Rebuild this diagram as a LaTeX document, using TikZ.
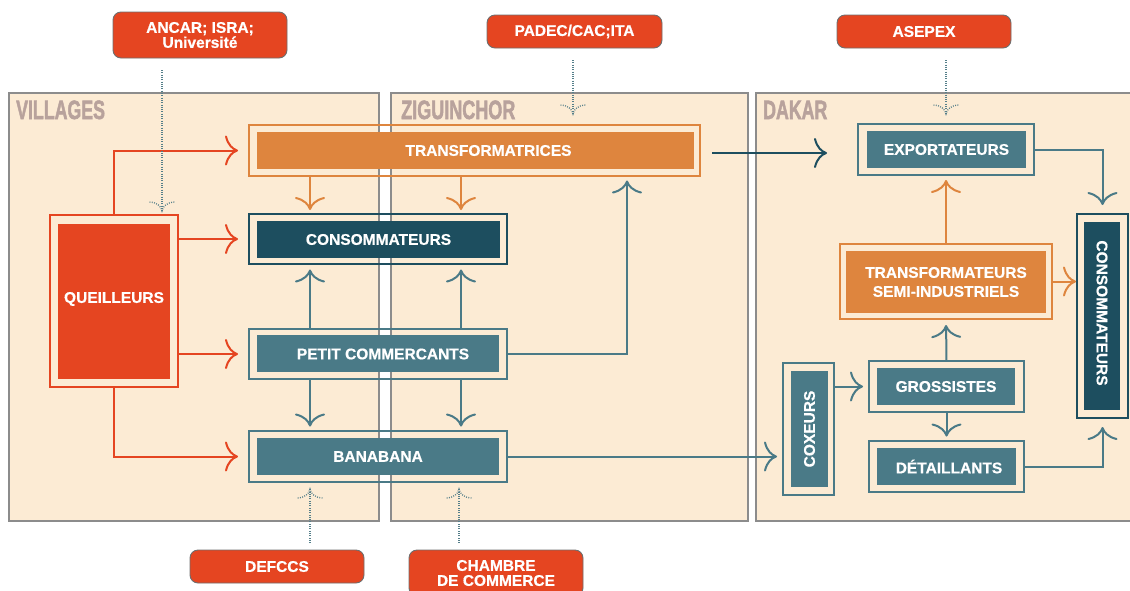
\documentclass[tikz,border=0pt]{standalone}
\usepackage{fontspec}
\setmainfont{Liberation Sans}[BoldFeatures={FakeBold=0.6}]
\newfontfamily\titlefont{Liberation Sans}[BoldFeatures={FakeBold=2.2}]
\usetikzlibrary{arrows.meta}
\definecolor{cred}{HTML}{E54521}
\definecolor{corange}{HTML}{DE853E}
\definecolor{cdark}{HTML}{1D4E5F}
\definecolor{cteal}{HTML}{4A7A87}
\definecolor{cpanel}{HTML}{FCEBD4}
\definecolor{cborder}{HTML}{8C8C8C}
\definecolor{ctitle}{HTML}{B8A29C}
\definecolor{ctagb}{HTML}{6E6E6E}
\definecolor{cdot}{HTML}{557F8A}
\begin{document}
\begin{tikzpicture}[x=1pt,y=-1pt,
  panel/.style={fill=cpanel, draw=cborder, line width=1.3pt},
  ptitle/.style={anchor=base west, inner sep=0, text=ctitle, font=\titlefont\fontsize{26.5}{26.5}\selectfont\bfseries},
  frame/.style={draw, line width=1.6pt, inner sep=0, outer sep=0},
  fillbox/.style={inner sep=0, outer sep=0, text=white, align=center, font=\fontsize{15.5}{15.5}\selectfont\bfseries},
  lbl/.style={inner sep=0, text=white, align=center, font=\fontsize{15.5}{15.5}\selectfont\bfseries},
  tag/.style={draw=ctagb, fill=cred, rounded corners=8pt, line width=0.9pt, inner sep=0, text=white, align=center, font=\fontsize{15.5}{15}\selectfont\bfseries},
  conn/.style={line width=2pt, -{Computer Modern Rightarrow[length=13pt,width=30pt]}},
  dotc/.style={draw=cdot, line width=1.3pt, dash pattern=on 0.9pt off 1.4pt},
  dtip/.pic={\draw[dotc] (-12.5,-9) .. controls (-5,-8.5) and (-1,-5) .. (0,0) .. controls (1,-5) and (5,-8.5) .. (12.5,-9);}
]
\clip (0,0) rectangle (1130,590);
% panels
\draw[panel] (9,93) rectangle (379,521);
\draw[panel] (391,93) rectangle (748,521);
\draw[panel] (756,93) rectangle (1145,521);
\node[ptitle] (tv) at (16,119) {\scalebox{0.67}[1]{VILLAGES}};
\node[ptitle] (tz) at (401,119) {\scalebox{0.68}[1]{ZIGUINCHOR}};
\node[ptitle] (td) at (763,119) {\scalebox{0.67}[1]{DAKAR}};

% frames
\node[frame, draw=corange, minimum width=451pt, minimum height=51pt] (tf) at (474.5,150.5) {};
\node[frame, draw=cdark, minimum width=258pt, minimum height=50pt] (cz) at (378,239) {};
\node[frame, draw=cteal, minimum width=258pt, minimum height=50pt] (pc) at (378,354) {};
\node[frame, draw=cteal, minimum width=258pt, minimum height=51pt] (bb) at (378,456.5) {};
\node[frame, draw=cred, minimum width=128pt, minimum height=172pt] (q) at (114,301) {};
\node[frame, draw=cteal, minimum width=176pt, minimum height=51pt] (ex) at (946,149.5) {};
\node[frame, draw=corange, minimum width=212pt, minimum height=75pt] (ts) at (946,281.5) {};
\node[frame, draw=cdark, minimum width=51pt, minimum height=204pt] (cd) at (1102.5,316) {};
\node[frame, draw=cteal, minimum width=51pt, minimum height=132pt] (cx) at (808.5,429) {};
\node[frame, draw=cteal, minimum width=155pt, minimum height=51pt] (gr) at (946.5,386.5) {};
\node[frame, draw=cteal, minimum width=155pt, minimum height=51pt] (dt) at (946.5,466.5) {};

% fills
\node[fillbox, fill=corange, minimum width=437pt, minimum height=37pt] (tfi) at (475.5,150.5) {};
\node[lbl] (tfl) at (488.5,150.5) {TRANSFORMATRICES};
\node[fillbox, fill=cdark, minimum width=243pt, minimum height=37pt] (czi) at (378.5,239.5) {CONSOMMATEURS};
\node[fillbox, fill=cteal, minimum width=242pt, minimum height=37pt] (pci) at (378,353.5) {};
\node[lbl] (pcl) at (383,354) {PETIT COMMERCANTS};
\node[fillbox, fill=cteal, minimum width=242pt, minimum height=37pt] (bbi) at (378,456.5) {BANABANA};
\node[fillbox, fill=cred, minimum width=112pt, minimum height=155pt] (qi) at (114,301.5) {};
\node[lbl] (ql) at (114,299) {QUEILLEURS};
\node[fillbox, fill=cteal, minimum width=159pt, minimum height=37pt] (exi) at (946.5,149.5) {EXPORTATEURS};
\node[fillbox, fill=corange, minimum width=200pt, minimum height=62pt, font=\fontsize{15.5}{19}\selectfont\bfseries] (tsi) at (946,282) {TRANSFORMATEURS\\SEMI-INDUSTRIELS};
\node[fillbox, fill=cdark, minimum width=36pt, minimum height=188pt] (cdi) at (1102,316) {};
\node[lbl, rotate=-90] (cdl) at (1102,313) {CONSOMMATEURS};
\node[fillbox, fill=cteal, minimum width=37pt, minimum height=116pt] (cxi) at (809.5,429) {};
\node[lbl, rotate=90] (cxl) at (809.5,429) {COXEURS};
\node[fillbox, fill=cteal, minimum width=138pt, minimum height=37pt] (gri) at (946,386.5) {GROSSISTES};
\node[fillbox, fill=cteal, minimum width=139pt, minimum height=37pt] (dti) at (946.5,466.5) {};
\node[lbl] (dtl) at (949,466.5) {DÉTAILLANTS};

% helper coordinates
\coordinate (xa) at (310,0);
\coordinate (xb) at (461,0);
\coordinate (xc) at (627,0);
\coordinate (yl) at (0,153);

% red connectors
\draw[conn, color=cred, shorten >=11pt] (q.north) |- (tf.west);
\draw[conn, color=cred, shorten >=11pt] (q.east |- cz.west) -- (cz.west);
\draw[conn, color=cred, shorten >=11pt] (q.east |- pc.west) -- (pc.west);
\draw[conn, color=cred, shorten >=11pt] (q.south) |- (bb.west);
% orange down
\draw[conn, color=corange, shorten >=4pt] (tf.south -| xa) -- (cz.north -| xa);
\draw[conn, color=corange, shorten >=4pt] (tf.south -| xb) -- (cz.north -| xb);
% teal up/down
\draw[conn, color=cteal, shorten >=5.5pt] (pc.north -| xa) -- (cz.south -| xa);
\draw[conn, color=cteal, shorten >=5.5pt] (pc.north -| xb) -- (cz.south -| xb);
\draw[conn, color=cteal, shorten >=4.5pt] (pc.south -| xa) -- (bb.north -| xa);
\draw[conn, color=cteal, shorten >=4.5pt] (pc.south -| xb) -- (bb.north -| xb);
\draw[conn, color=cteal, shorten >=4.5pt] (pc.east) -| (tf.south -| xc);
% to Dakar
\draw[conn, color=cdark, shorten <=12pt, shorten >=31pt] (tf.east |- yl) -- (ex.west |- yl);
\draw[conn, color=cteal, shorten >=9pt] (ex.east) -| (cd.north);
\draw[conn, color=corange, shorten >=5pt] (ts.north) -- (ex.south);
\draw[conn, color=corange, shorten >=1pt] (ts.east) -- (cd.west |- ts.east);
\draw[conn, color=cteal, shorten >=6pt] (gr.north) -- (ts.south);
\draw[conn, color=cteal, shorten >=4.5pt] (gr.south) -- (dt.north);
\draw[conn, color=cteal, shorten >=6pt] (cx.east |- gr.west) -- (gr.west);
\draw[conn, color=cteal, shorten >=6pt] (bb.east) -- (cx.west |- bb.east);
\draw[conn, color=cteal, shorten >=9pt] (dt.east) -| (cd.south);

% tags
\node[tag, minimum width=174pt, minimum height=46pt] (t1) at (200,35) {ANCAR; ISRA;\\Université};
\node[tag, minimum width=175pt, minimum height=33pt] (t2) at (574.5,31.5) {PADEC/CAC;ITA};
\node[tag, minimum width=174pt, minimum height=33pt] (t3) at (924,31.5) {ASEPEX};
\node[tag, minimum width=174pt, minimum height=33pt] (t4) at (277,566.5) {DEFCCS};
\node[tag, minimum width=174pt, minimum height=46pt] (t5) at (496,573) {CHAMBRE\\DE COMMERCE};

% dotted connectors
\coordinate (d1a) at (162,70);  \coordinate (d1b) at (162,211);
\coordinate (d2a) at (573,60);  \coordinate (d2b) at (573,114);
\coordinate (d3a) at (946,60);  \coordinate (d3b) at (946,114);
\coordinate (d4a) at (310,543); \coordinate (d4b) at (310,489);
\coordinate (d5a) at (459,543); \coordinate (d5b) at (459,489);
\draw[dotc] (d1a) -- (d1b); \pic at (d1b) {dtip};
\draw[dotc] (d2a) -- (d2b); \pic at (d2b) {dtip};
\draw[dotc] (d3a) -- (d3b); \pic at (d3b) {dtip};
\draw[dotc] (d4a) -- (d4b); \pic[rotate=180] at (d4b) {dtip};
\draw[dotc] (d5a) -- (d5b); \pic[rotate=180] at (d5b) {dtip};
\end{tikzpicture}
\end{document}
